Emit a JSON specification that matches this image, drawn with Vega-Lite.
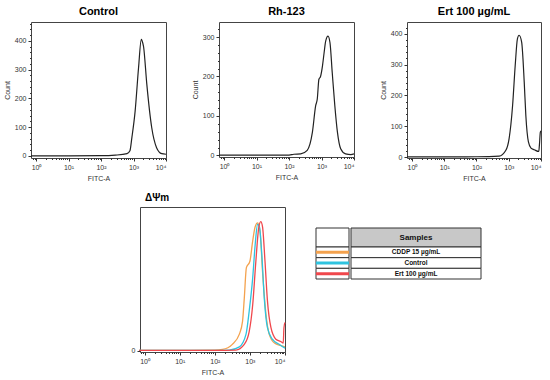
{
  "$schema": "https://vega.github.io/schema/vega-lite/v6.json",
  "background": "white",
  "padding": {"left": 2, "top": 5, "right": 5, "bottom": 5},
  "config": {
    "font": "Liberation Sans",
    "view": {"stroke": null},
    "axis": {"labelFont": "Liberation Sans", "labelFontSize": 7, "labelColor": "#333", "tickColor": "#333", "tickSize": 3, "labelPadding": 2, "domain": false, "grid": false, "titleFont": "Liberation Sans", "titleFontSize": 7, "titleFontWeight": "normal", "titleColor": "#333", "titlePadding": 4},
    "title": {"font": "Liberation Sans", "fontSize": 11, "fontWeight": "bold", "color": "#000", "offset": 5},
    "line": {"interpolate": "monotone", "strokeWidth": 1.2}
  },
  "datasets": {
    "control": [
      {"fitc": 0.7, "count": 0.5}, {"fitc": 10, "count": 0.5}, {"fitc": 100, "count": 1}, {"fitc": 275, "count": 3}, {"fitc": 631, "count": 8}, {"fitc": 776, "count": 18}, {"fitc": 891, "count": 64}, {"fitc": 1122, "count": 156}, {"fitc": 1429, "count": 307}, {"fitc": 1738, "count": 406}, {"fitc": 1820, "count": 402}, {"fitc": 2042, "count": 380}, {"fitc": 2570, "count": 249}, {"fitc": 3631, "count": 99}, {"fitc": 5129, "count": 29}, {"fitc": 7413, "count": 8}, {"fitc": 10000, "count": 6}
    ],
    "rh123": [
      {"fitc": 0.7, "count": 0.5}, {"fitc": 10, "count": 0.5}, {"fitc": 100, "count": 1}, {"fitc": 141, "count": 3}, {"fitc": 229, "count": 4}, {"fitc": 363, "count": 13}, {"fitc": 525, "count": 59}, {"fitc": 661, "count": 126}, {"fitc": 741, "count": 143}, {"fitc": 832, "count": 193}, {"fitc": 933, "count": 200}, {"fitc": 1072, "count": 227}, {"fitc": 1202, "count": 260}, {"fitc": 1349, "count": 290}, {"fitc": 1585, "count": 302}, {"fitc": 1820, "count": 286}, {"fitc": 2138, "count": 210}, {"fitc": 2570, "count": 126}, {"fitc": 3090, "count": 59}, {"fitc": 3890, "count": 17}, {"fitc": 5495, "count": 4}, {"fitc": 8000, "count": 2}, {"fitc": 10000, "count": 4}
    ],
    "ert": [
      {"fitc": 0.7, "count": 0.5}, {"fitc": 10, "count": 0.5}, {"fitc": 100, "count": 1}, {"fitc": 501, "count": 3}, {"fitc": 813, "count": 22}, {"fitc": 1023, "count": 59}, {"fitc": 1318, "count": 168}, {"fitc": 1585, "count": 297}, {"fitc": 1862, "count": 384}, {"fitc": 2089, "count": 395}, {"fitc": 2512, "count": 373}, {"fitc": 3020, "count": 243}, {"fitc": 3388, "count": 135}, {"fitc": 4074, "count": 49}, {"fitc": 4898, "count": 29}, {"fitc": 6166, "count": 24}, {"fitc": 8511, "count": 18}, {"fitc": 8913, "count": 38}, {"fitc": 9550, "count": 81}, {"fitc": 10000, "count": 85}
    ],
    "overlay": [
      {"sample": "CDDP 15 µg/mL", "fitc": 0.7, "pct": 0.3}, {"sample": "CDDP 15 µg/mL", "fitc": 10, "pct": 0.3}, {"sample": "CDDP 15 µg/mL", "fitc": 100, "pct": 0.5}, {"sample": "CDDP 15 µg/mL", "fitc": 166, "pct": 1}, {"sample": "CDDP 15 µg/mL", "fitc": 316, "pct": 5}, {"sample": "CDDP 15 µg/mL", "fitc": 501, "pct": 13}, {"sample": "CDDP 15 µg/mL", "fitc": 617, "pct": 23}, {"sample": "CDDP 15 µg/mL", "fitc": 692, "pct": 41}, {"sample": "CDDP 15 µg/mL", "fitc": 794, "pct": 65}, {"sample": "CDDP 15 µg/mL", "fitc": 1000, "pct": 70}, {"sample": "CDDP 15 µg/mL", "fitc": 1202, "pct": 86}, {"sample": "CDDP 15 µg/mL", "fitc": 1413, "pct": 97}, {"sample": "CDDP 15 µg/mL", "fitc": 1660, "pct": 100}, {"sample": "CDDP 15 µg/mL", "fitc": 1950, "pct": 93}, {"sample": "CDDP 15 µg/mL", "fitc": 2291, "pct": 62}, {"sample": "CDDP 15 µg/mL", "fitc": 2884, "pct": 28}, {"sample": "CDDP 15 µg/mL", "fitc": 3548, "pct": 13}, {"sample": "CDDP 15 µg/mL", "fitc": 5012, "pct": 6}, {"sample": "CDDP 15 µg/mL", "fitc": 7762, "pct": 4}, {"sample": "CDDP 15 µg/mL", "fitc": 10000, "pct": 3},
      {"sample": "Control", "fitc": 0.7, "pct": 0.3}, {"sample": "Control", "fitc": 10, "pct": 0.3}, {"sample": "Control", "fitc": 100, "pct": 0.3}, {"sample": "Control", "fitc": 257, "pct": 0.5}, {"sample": "Control", "fitc": 501, "pct": 3}, {"sample": "Control", "fitc": 776, "pct": 13}, {"sample": "Control", "fitc": 955, "pct": 31}, {"sample": "Control", "fitc": 1202, "pct": 57}, {"sample": "Control", "fitc": 1413, "pct": 83}, {"sample": "Control", "fitc": 1660, "pct": 99}, {"sample": "Control", "fitc": 1862, "pct": 97}, {"sample": "Control", "fitc": 2188, "pct": 75}, {"sample": "Control", "fitc": 2570, "pct": 41}, {"sample": "Control", "fitc": 3162, "pct": 18}, {"sample": "Control", "fitc": 4365, "pct": 9}, {"sample": "Control", "fitc": 6761, "pct": 5}, {"sample": "Control", "fitc": 10000, "pct": 2},
      {"sample": "Ert 100 µg/mL", "fitc": 0.7, "pct": 0.3}, {"sample": "Ert 100 µg/mL", "fitc": 10, "pct": 0.3}, {"sample": "Ert 100 µg/mL", "fitc": 100, "pct": 0.3}, {"sample": "Ert 100 µg/mL", "fitc": 398, "pct": 0.5}, {"sample": "Ert 100 µg/mL", "fitc": 692, "pct": 5}, {"sample": "Ert 100 µg/mL", "fitc": 955, "pct": 15}, {"sample": "Ert 100 µg/mL", "fitc": 1202, "pct": 36}, {"sample": "Ert 100 µg/mL", "fitc": 1479, "pct": 70}, {"sample": "Ert 100 µg/mL", "fitc": 1778, "pct": 96}, {"sample": "Ert 100 µg/mL", "fitc": 2042, "pct": 101}, {"sample": "Ert 100 µg/mL", "fitc": 2291, "pct": 97}, {"sample": "Ert 100 µg/mL", "fitc": 2692, "pct": 70}, {"sample": "Ert 100 µg/mL", "fitc": 3162, "pct": 39}, {"sample": "Ert 100 µg/mL", "fitc": 3981, "pct": 18}, {"sample": "Ert 100 µg/mL", "fitc": 5495, "pct": 9}, {"sample": "Ert 100 µg/mL", "fitc": 7762, "pct": 7}, {"sample": "Ert 100 µg/mL", "fitc": 8913, "pct": 6}, {"sample": "Ert 100 µg/mL", "fitc": 9333, "pct": 18}, {"sample": "Ert 100 µg/mL", "fitc": 10000, "pct": 22}
    ],
    "legend": [
      {"sample": "CDDP 15 µg/mL"}, {"sample": "Control"}, {"sample": "Ert 100 µg/mL"}
    ],
    "blank": [{"label": "Samples"}]
  },
  "vconcat": [
    {
      "hconcat": [
        {
          "title": "Control",
          "width": 135, "height": 136,
          "view": {"stroke": "#444", "strokeWidth": 1},
          "data": {"name": "control"},
          "layer": [
            {
              "mark": {"type": "line", "color": "#222"},
              "encoding": {
                "x": {"field": "fitc", "type": "quantitative", "scale": {"type": "log", "domain": [0.7, 10000], "nice": false}, "axis": {"title": "FITC-A", "orient": "bottom", "values": [1, 10, 100, 1000, 10000], "labelExpr": "datum.value == 1 ? '10⁰' : datum.value == 10 ? '10¹' : datum.value == 100 ? '10²' : datum.value == 1000 ? '10³' : '10⁴'"}},
                "y": {"field": "count", "type": "quantitative", "scale": {"domain": [-7, 466], "nice": false, "zero": false}, "axis": {"title": "Count", "orient": "left", "values": [0, 100, 200, 300, 400]}}
              }
            },
            {
              "mark": {"type": "line", "opacity": 0},
              "encoding": {
                "x": {"field": "fitc", "type": "quantitative", "axis": {"title": null, "orient": "bottom", "labels": false, "tickSize": 1.5, "values": [0.8, 0.9, 2, 3, 4, 5, 6, 7, 8, 9, 20, 30, 40, 50, 60, 70, 80, 90, 200, 300, 400, 500, 600, 700, 800, 900, 2000, 3000, 4000, 5000, 6000, 7000, 8000, 9000]}},
                "y": {"field": "count", "type": "quantitative", "axis": {"title": null, "orient": "left", "labels": false, "tickSize": 1.5, "values": [20, 40, 60, 80, 120, 140, 160, 180, 220, 240, 260, 280, 320, 340, 360, 380, 420, 440, 460]}}
              }
            }
          ],
          "resolve": {"axis": {"x": "independent", "y": "independent"}}
        },
        {
          "title": "Rh-123",
          "width": 135, "height": 135,
          "view": {"stroke": "#444", "strokeWidth": 1},
          "data": {"name": "rh123"},
          "layer": [
            {
              "mark": {"type": "line", "color": "#222"},
              "encoding": {
                "x": {"field": "fitc", "type": "quantitative", "scale": {"type": "log", "domain": [0.7, 10000], "nice": false}, "axis": {"title": "FITC-A", "orient": "bottom", "values": [1, 10, 100, 1000, 10000], "labelExpr": "datum.value == 1 ? '10⁰' : datum.value == 10 ? '10¹' : datum.value == 100 ? '10²' : datum.value == 1000 ? '10³' : '10⁴'"}},
                "y": {"field": "count", "type": "quantitative", "scale": {"domain": [-4, 338], "nice": false, "zero": false}, "axis": {"title": "Count", "orient": "left", "values": [0, 100, 200, 300]}}
              }
            },
            {
              "mark": {"type": "line", "opacity": 0},
              "encoding": {
                "x": {"field": "fitc", "type": "quantitative", "axis": {"title": null, "orient": "bottom", "labels": false, "tickSize": 1.5, "values": [0.8, 0.9, 2, 3, 4, 5, 6, 7, 8, 9, 20, 30, 40, 50, 60, 70, 80, 90, 200, 300, 400, 500, 600, 700, 800, 900, 2000, 3000, 4000, 5000, 6000, 7000, 8000, 9000]}},
                "y": {"field": "count", "type": "quantitative", "axis": {"title": null, "orient": "left", "labels": false, "tickSize": 1.5, "values": [20, 40, 60, 80, 120, 140, 160, 180, 220, 240, 260, 280, 320]}}
              }
            }
          ],
          "resolve": {"axis": {"x": "independent", "y": "independent"}}
        },
        {
          "title": "Ert 100 µg/mL",
          "width": 134, "height": 136,
          "view": {"stroke": "#444", "strokeWidth": 1},
          "data": {"name": "ert"},
          "layer": [
            {
              "mark": {"type": "line", "color": "#222"},
              "encoding": {
                "x": {"field": "fitc", "type": "quantitative", "scale": {"type": "log", "domain": [0.7, 10000], "nice": false}, "axis": {"title": "FITC-A", "orient": "bottom", "values": [1, 10, 100, 1000, 10000], "labelExpr": "datum.value == 1 ? '10⁰' : datum.value == 10 ? '10¹' : datum.value == 100 ? '10²' : datum.value == 1000 ? '10³' : '10⁴'"}},
                "y": {"field": "count", "type": "quantitative", "scale": {"domain": [-3, 438], "nice": false, "zero": false}, "axis": {"title": "Count", "orient": "left", "values": [0, 100, 200, 300, 400]}}
              }
            },
            {
              "mark": {"type": "line", "opacity": 0},
              "encoding": {
                "x": {"field": "fitc", "type": "quantitative", "axis": {"title": null, "orient": "bottom", "labels": false, "tickSize": 1.5, "values": [0.8, 0.9, 2, 3, 4, 5, 6, 7, 8, 9, 20, 30, 40, 50, 60, 70, 80, 90, 200, 300, 400, 500, 600, 700, 800, 900, 2000, 3000, 4000, 5000, 6000, 7000, 8000, 9000]}},
                "y": {"field": "count", "type": "quantitative", "axis": {"title": null, "orient": "left", "labels": false, "tickSize": 1.5, "values": [20, 40, 60, 80, 120, 140, 160, 180, 220, 240, 260, 280, 320, 340, 360, 380, 420]}}
              }
            }
          ],
          "resolve": {"axis": {"x": "independent", "y": "independent"}}
        }
      ],
      "spacing": 21
    },
    {
      "hconcat": [
        {
          "width": 74, "height": 10,
          "data": {"name": "blank"},
          "mark": {"type": "rect", "opacity": 0},
          "encoding": {}
        },
        {
          "title": {"text": "ΔΨm", "anchor": "start", "frame": "group", "dx": 5, "fontSize": 10, "offset": 4},
          "width": 145, "height": 145,
          "view": {"stroke": "#444", "strokeWidth": 1},
          "data": {"name": "overlay"},
          "layer": [
            {
              "mark": {"type": "line", "strokeWidth": 1.3},
              "encoding": {
                "x": {"field": "fitc", "type": "quantitative", "scale": {"type": "log", "domain": [0.74, 10000], "nice": false}, "axis": {"title": "FITC-A", "orient": "bottom", "values": [1, 10, 100, 1000, 10000], "labelExpr": "datum.value == 1 ? '10⁰' : datum.value == 10 ? '10¹' : datum.value == 100 ? '10²' : datum.value == 1000 ? '10³' : '10⁴'"}},
                "y": {"field": "pct", "type": "quantitative", "scale": {"domain": [-1, 112.5], "nice": false, "zero": false}, "axis": {"title": null, "values": [0]}},
                "color": {"field": "sample", "type": "nominal", "scale": {"domain": ["CDDP 15 µg/mL", "Control", "Ert 100 µg/mL"], "range": ["#f4a24e", "#2fc3df", "#f0474c"]}, "legend": null}
              }
            },
            {
              "mark": {"type": "line", "opacity": 0},
              "encoding": {
                "x": {"field": "fitc", "type": "quantitative", "axis": {"title": null, "orient": "bottom", "labels": false, "tickSize": 1.5, "values": [0.8, 0.9, 2, 3, 4, 5, 6, 7, 8, 9, 20, 30, 40, 50, 60, 70, 80, 90, 200, 300, 400, 500, 600, 700, 800, 900, 2000, 3000, 4000, 5000, 6000, 7000, 8000, 9000]}},
                "y": {"field": "pct", "type": "quantitative"},
                "detail": {"field": "sample"}
              }
            }
          ],
          "resolve": {"axis": {"x": "independent"}}
        },
        {
          "hconcat": [
            {
              "vconcat": [
                {
                  "width": 33, "height": 21,
                  "data": {"name": "blank"},
                  "mark": {"type": "rect", "opacity": 0},
                  "encoding": {}
                },
                {
                  "width": 33, "height": 19,
                  "data": {"name": "blank"},
                  "mark": {"type": "rect", "fill": "white", "stroke": "#333", "strokeWidth": 1},
                  "encoding": {}
                },
                {
                  "width": 33, "height": 32,
                  "data": {"name": "legend"},
                  "layer": [
                    {"mark": {"type": "rect", "fill": "white", "stroke": "#333", "strokeWidth": 1},
                     "encoding": {"y": {"field": "sample", "type": "nominal", "sort": null, "scale": {"type": "band", "domain": ["CDDP 15 µg/mL", "Control", "Ert 100 µg/mL"], "paddingInner": 0, "paddingOuter": 0}, "axis": null}}},
                    {"mark": {"type": "rule", "strokeWidth": 3},
                     "encoding": {"y": {"field": "sample", "type": "nominal", "sort": null, "axis": null},
                                  "color": {"field": "sample", "type": "nominal", "scale": {"domain": ["CDDP 15 µg/mL", "Control", "Ert 100 µg/mL"], "range": ["#f4a24e", "#2fc3df", "#f0474c"]}, "legend": null}}}
                  ]
                }
              ],
              "spacing": 0,
              "bounds": "flush"
            },
            {
              "vconcat": [
                {
                  "width": 130, "height": 21,
                  "data": {"name": "blank"},
                  "mark": {"type": "rect", "opacity": 0},
                  "encoding": {}
                },
                {
                  "width": 130, "height": 19,
                  "data": {"name": "blank"},
                  "layer": [
                    {"mark": {"type": "rect", "fill": "#c8c8c8", "stroke": "#333", "strokeWidth": 1}, "encoding": {}},
                    {"mark": {"type": "text", "fontWeight": "bold", "fontSize": 8, "color": "#111"}, "encoding": {"text": {"field": "label"}}}
                  ]
                },
                {
                  "width": 130, "height": 32,
                  "data": {"name": "legend"},
                  "layer": [
                    {"mark": {"type": "rect", "fill": "white", "stroke": "#333", "strokeWidth": 1},
                     "encoding": {"y": {"field": "sample", "type": "nominal", "sort": null, "scale": {"type": "band", "domain": ["CDDP 15 µg/mL", "Control", "Ert 100 µg/mL"], "paddingInner": 0, "paddingOuter": 0}, "axis": null}}},
                    {"mark": {"type": "text", "fontWeight": "bold", "fontSize": 6.5, "color": "#111"},
                     "encoding": {"y": {"field": "sample", "type": "nominal", "sort": null, "axis": null}, "text": {"field": "sample"}}}
                  ]
                }
              ],
              "spacing": 0,
              "bounds": "flush"
            }
          ],
          "spacing": -1
        }
      ],
      "spacing": 25
    }
  ],
  "spacing": 10
}
